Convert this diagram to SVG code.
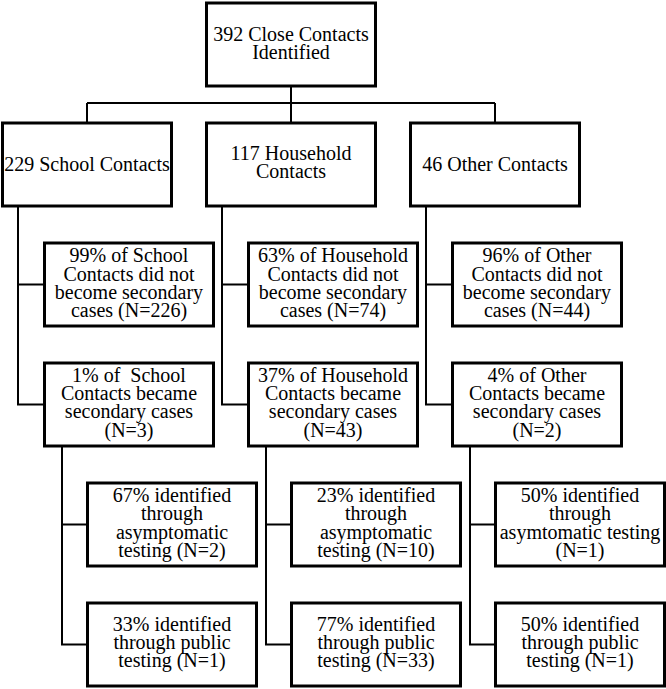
<svg xmlns="http://www.w3.org/2000/svg" width="666" height="689" viewBox="0 0 666 689">
<style>
.box{fill:#fff;stroke:#000;stroke-width:3}
.ln{fill:none;stroke:#000;stroke-width:2}
.t{font-family:"Liberation Serif","Times New Roman",serif;font-size:20px;text-anchor:middle;fill:#000}
</style>
<rect width="666" height="689" fill="#fff"/>
<g id="connectors">
<path class="ln" d="M291 87V103M87 103H495M87 103V122M291 103V122M495 103V122"/>
<path class="ln" d="M18 207V404.5H44.5M18 284.5H44.5M222 207V404.5H248.5M222 284.5H248.5M426 207V404.5H452.5M426 284.5H452.5"/>
<path class="ln" d="M62 447V644.5H87.5M62 524.5H87.5M266 447V644.5H291.5M266 524.5H291.5M470 447V644.5H495.5M470 524.5H495.5"/>
</g>
<g id="n_total"><rect class="box" x="206.5" y="3" width="169" height="83"/>
<text class="t" y="40.5"><tspan x="291">392 Close Contacts</tspan><tspan x="291" dy="18.3">Identified</tspan></text></g>
<g id="n_school"><rect class="box" x="2.5" y="123" width="169" height="83"/>
<text class="t" y="170.5"><tspan x="87">229 School Contacts</tspan></text></g>
<g id="n_household"><rect class="box" x="206.5" y="123" width="169" height="83"/>
<text class="t" y="160"><tspan x="291">117 Household</tspan><tspan x="291" dy="18.3">Contacts</tspan></text></g>
<g id="n_other"><rect class="box" x="410.5" y="123" width="169" height="83"/>
<text class="t" y="170.5"><tspan x="495">46 Other Contacts</tspan></text></g>
<g id="n_school_no"><rect class="box" x="44.5" y="243" width="169" height="83"/>
<text class="t" y="262.3"><tspan x="129">99% of School</tspan><tspan x="129" dy="18.3">Contacts did not</tspan><tspan x="129" dy="18.3">become secondary</tspan><tspan x="129" dy="18.3">cases (N=226)</tspan></text></g>
<g id="n_household_no"><rect class="box" x="248.5" y="243" width="169" height="83"/>
<text class="t" y="262.3"><tspan x="333">63% of Household</tspan><tspan x="333" dy="18.3">Contacts did not</tspan><tspan x="333" dy="18.3">become secondary</tspan><tspan x="333" dy="18.3">cases (N=74)</tspan></text></g>
<g id="n_other_no"><rect class="box" x="452.5" y="243" width="169" height="83"/>
<text class="t" y="262.3"><tspan x="537">96% of Other</tspan><tspan x="537" dy="18.3">Contacts did not</tspan><tspan x="537" dy="18.3">become secondary</tspan><tspan x="537" dy="18.3">cases (N=44)</tspan></text></g>
<g id="n_school_yes"><rect class="box" x="44.5" y="363" width="169" height="83"/>
<text class="t" y="381.8"><tspan x="129">1% of&#160; School</tspan><tspan x="129" dy="18.3">Contacts became</tspan><tspan x="129" dy="18.3">secondary cases</tspan><tspan x="129" dy="18.3">(N=3)</tspan></text></g>
<g id="n_household_yes"><rect class="box" x="248.5" y="363" width="169" height="83"/>
<text class="t" y="381.8"><tspan x="333">37% of Household</tspan><tspan x="333" dy="18.3">Contacts became</tspan><tspan x="333" dy="18.3">secondary cases</tspan><tspan x="333" dy="18.3">(N=43)</tspan></text></g>
<g id="n_other_yes"><rect class="box" x="452.5" y="363" width="169" height="83"/>
<text class="t" y="381.8"><tspan x="537">4% of Other</tspan><tspan x="537" dy="18.3">Contacts became</tspan><tspan x="537" dy="18.3">secondary cases</tspan><tspan x="537" dy="18.3">(N=2)</tspan></text></g>
<g id="n_school_asym"><rect class="box" x="87.5" y="483" width="169" height="83"/>
<text class="t" y="502"><tspan x="172">67% identified</tspan><tspan x="172" dy="18.3">through</tspan><tspan x="172" dy="18.3">asymptomatic</tspan><tspan x="172" dy="18.3">testing (N=2)</tspan></text></g>
<g id="n_household_asym"><rect class="box" x="291.5" y="483" width="169" height="83"/>
<text class="t" y="502"><tspan x="376">23% identified</tspan><tspan x="376" dy="18.3">through</tspan><tspan x="376" dy="18.3">asymptomatic</tspan><tspan x="376" dy="18.3">testing (N=10)</tspan></text></g>
<g id="n_other_asym"><rect class="box" x="495.5" y="483" width="169" height="83"/>
<text class="t" y="502"><tspan x="580">50% identified</tspan><tspan x="580" dy="18.3">through</tspan><tspan x="580" dy="18.3">asymtomatic testing</tspan><tspan x="580" dy="18.3">(N=1)</tspan></text></g>
<g id="n_school_pub"><rect class="box" x="87.5" y="603" width="169" height="83"/>
<text class="t" y="630.5"><tspan x="172">33% identified</tspan><tspan x="172" dy="18.3">through public</tspan><tspan x="172" dy="18.3">testing (N=1)</tspan></text></g>
<g id="n_household_pub"><rect class="box" x="291.5" y="603" width="169" height="83"/>
<text class="t" y="630.5"><tspan x="376">77% identified</tspan><tspan x="376" dy="18.3">through public</tspan><tspan x="376" dy="18.3">testing (N=33)</tspan></text></g>
<g id="n_other_pub"><rect class="box" x="495.5" y="603" width="169" height="83"/>
<text class="t" y="630.5"><tspan x="580">50% identified</tspan><tspan x="580" dy="18.3">through public</tspan><tspan x="580" dy="18.3">testing (N=1)</tspan></text></g>
</svg>
